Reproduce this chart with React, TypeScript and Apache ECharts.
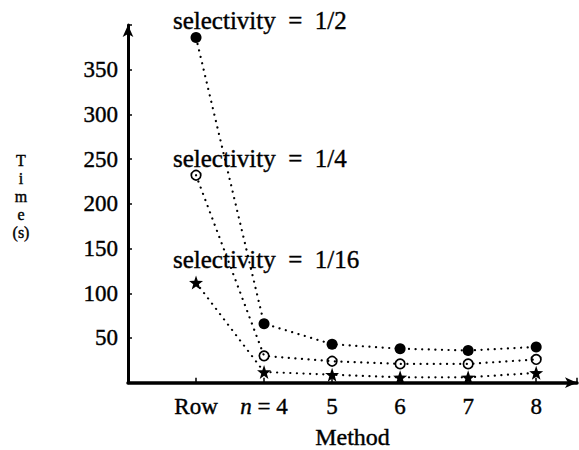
import React, { useEffect, useRef } from "react";
import * as echarts from "echarts";

const categories = ["Row", "n = 4", "5", "6", "7", "8"];
const sel2 = [386, 66, 43, 38, 36, 40];
const sel4 = [232, 30, 24, 21, 21, 26];
const sel16 = [112, 12, 9, 6, 6, 11];
const seriesNames = ["selectivity = 1/2", "selectivity = 1/4", "selectivity = 1/16"];
const yLabelText = ["T", "i", "m", "e", "(s)"];

const FONT = "Liberation Serif";
const STAR =
  "path://M0,-10 L2.35,-3.24 L9.51,-3.09 L3.8,1.24 L5.88,8.09 L0,4 L-5.88,8.09 L-3.8,1.24 L-9.51,-3.09 L-2.35,-3.24 Z";

const wide = (s: string) => s.replace(/ = /, "\u2002=\u2002");

export default function App() {
  const ref = useRef<HTMLDivElement>(null);
  useEffect(() => {
    if (!ref.current) return;
    const chart = echarts.init(ref.current, null, { renderer: "svg" });
    const toPairs = (arr: number[]) => arr.map((v, i) => [i, v]);
    const line = { color: "#000", width: 2.2, type: [0.1, 6.5] as any, cap: "round" as any };
    const txt = { fontFamily: FONT, color: "#000", textBorderColor: "#000", textBorderWidth: 0.4 };
    const annY = [20, 158, 259];
    chart.setOption({
      animation: false,
      backgroundColor: "#fff",
      grid: { left: 128, right: 2, top: 25, bottom: 67.3, containLabel: false, outerBoundsMode: "none" },
      xAxis: {
        type: "value",
        min: -1,
        max: 5.6,
        interval: 1,
        name: "Method",
        nameLocation: "middle",
        nameGap: 42,
        nameTextStyle: { ...txt, fontSize: 24 },
        axisLine: {
          show: true,
          onZero: false,
          symbol: ["none", "arrow"],
          symbolSize: [8, 12],
          lineStyle: { color: "#000", width: 3.5 },
        },
        axisTick: { show: true, inside: true, length: 5, lineStyle: { color: "#000", width: 1.5 } },
        splitLine: { show: false },
        axisLabel: {
          margin: 12,
          ...txt,
          fontSize: 23,
          formatter: (v: number) => {
            const c = Number.isInteger(v) && v >= 0 ? categories[v] : undefined;
            if (!c) return "";
            if (c.startsWith("n")) return "{i|n}" + c.slice(1);
            return c;
          },
          rich: { i: { ...txt, fontStyle: "italic", fontSize: 23 } },
        },
      },
      yAxis: {
        type: "value",
        min: 0,
        max: 400,
        interval: 50,
        axisLine: {
          show: true,
          onZero: false,
          symbol: ["none", "arrow"],
          symbolSize: [8, 12],
          lineStyle: { color: "#000", width: 3 },
        },
        axisTick: { show: true, inside: true, length: 4, lineStyle: { color: "#000", width: 1.5 } },
        splitLine: { show: false },
        axisLabel: {
          margin: 10,
          ...txt,
          fontSize: 23,
          formatter: (v: number) => (v > 0 && v < 400 ? String(v) : ""),
        },
      },
      graphic: [
        ...seriesNames.map((name, k) => ({
          type: "text",
          x: 173,
          y: annY[k],
          style: {
            text: wide(name),
            fontFamily: FONT,
            fontSize: 25,
            fill: "#000",
            stroke: "#000",
            lineWidth: 0.4,
            align: "left",
            verticalAlign: "middle",
          },
        })),
        ...yLabelText.map((ch, k) => ({
          type: "text",
          x: 21,
          y: 160 + k * 18,
          style: {
            text: ch,
            fontFamily: FONT,
            fontSize: 16,
            align: "center",
            verticalAlign: "middle",
            fill: "#000",
            stroke: "#000",
            lineWidth: 0.4,
          },
        })),
      ],
      series: [
        {
          name: seriesNames[0],
          type: "line",
          data: toPairs(sel2),
          symbol: "circle",
          symbolSize: 11,
          itemStyle: { color: "#000" },
          lineStyle: line,
        },
        {
          name: seriesNames[1],
          type: "line",
          data: toPairs(sel4),
          symbol: "circle",
          symbolSize: 9.5,
          itemStyle: { color: "rgba(255,255,255,0)", borderColor: "#000", borderWidth: 1.7 },
          lineStyle: line,
        },
        {
          name: seriesNames[2],
          type: "line",
          data: toPairs(sel16),
          symbol: STAR,
          symbolSize: 14,
          itemStyle: { color: "#000" },
          lineStyle: line,
        },
      ],
    });
    return () => chart.dispose();
  }, []);
  return <div ref={ref} style={{ position: "fixed", left: 0, top: 0, width: 579, height: 450 }} />;
}
